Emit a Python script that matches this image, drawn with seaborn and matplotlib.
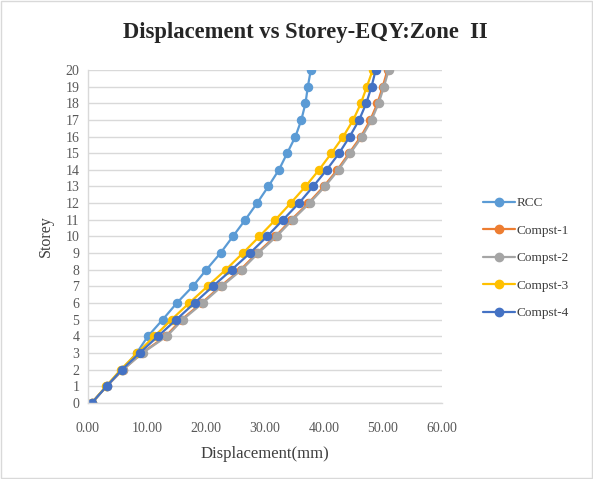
import matplotlib
matplotlib.use("Agg")
import matplotlib.pyplot as plt
from matplotlib.patches import Rectangle
import seaborn as sns
import pandas as pd

storeys = list(range(0, 21))
rcc = [0.7, 3.2, 5.8, 8.3, 10.2, 12.7, 15.1, 17.8, 20.1, 22.5, 24.6,
       26.7, 28.7, 30.6, 32.4, 33.8, 35.2, 36.2, 36.9, 37.3, 37.8]
compst_1 = [0.7, 3.2, 6.0, 9.2, 13.2, 15.9, 19.3, 22.5, 25.9, 28.7, 31.8,
            34.5, 37.4, 40.0, 42.3, 44.3, 46.3, 47.9, 49.1, 50.0, 50.8]
compst_2 = [0.7, 3.2, 6.0, 9.3, 13.4, 16.1, 19.5, 22.7, 26.1, 28.9, 32.0,
            34.7, 37.6, 40.2, 42.5, 44.5, 46.5, 48.1, 49.3, 50.2, 51.0]
compst_3 = [0.7, 3.1, 5.6, 8.4, 11.3, 14.2, 17.2, 20.3, 23.4, 26.3, 29.1,
            31.8, 34.4, 36.9, 39.2, 41.3, 43.3, 45.0, 46.3, 47.3, 48.3]
compst_4 = [0.7, 3.2, 5.8, 8.8, 11.9, 15.0, 18.1, 21.2, 24.4, 27.5, 30.4,
            33.1, 35.8, 38.2, 40.5, 42.6, 44.4, 46.0, 47.2, 48.1, 48.8]

series_names = ["RCC", "Compst-1", "Compst-2", "Compst-3", "Compst-4"]
series_values = [rcc, compst_1, compst_2, compst_3, compst_4]
colors = ["#5B9BD5", "#ED7D31", "#A5A5A5", "#FFC000", "#4472C4"]

x_ticks = [0, 10, 20, 30, 40, 50, 60]

rows = []
for name, vals in zip(series_names, series_values):
    for s, v in zip(storeys, vals):
        rows.append({"Displacement": v, "Storey": s, "Series": name})
df = pd.DataFrame(rows)

sns.set_theme(style="white")
plt.rcParams["font.family"] = ["Liberation Serif", "DejaVu Serif"]

fig = plt.figure(figsize=(5.93, 4.79), dpi=100)
fig.patches.append(Rectangle((0.002, 0.002), 0.996, 0.996, transform=fig.transFigure,
                             fill=False, edgecolor="#D9D9D9", linewidth=1.0))
ax = fig.add_axes([0.148, 0.159, 0.597, 0.695])

sns.lineplot(data=df, x="Displacement", y="Storey", hue="Series",
             hue_order=series_names, palette=colors, orient="y",
             estimator=None, sort=False, marker="o", markersize=6,
             markeredgewidth=0.8, linewidth=1.6, legend=False, ax=ax)
for line, c in zip(ax.get_lines(), colors):
    line.set_markeredgecolor(c)

ax.set_xlim(0, 60)
ax.set_ylim(0, 20)
ax.set_xticks(x_ticks)
ax.set_xticklabels([f"{t:.2f}" for t in x_ticks])
ax.set_yticks(storeys)
ax.set_yticklabels([str(s) for s in storeys])
ax.tick_params(axis="both", length=0, labelsize=10, labelcolor="#595959")
ax.tick_params(axis="x", pad=14)
ax.tick_params(axis="y", pad=6)
ax.yaxis.grid(True, color="#D9D9D9", linewidth=1.0)
ax.xaxis.grid(False)
for side in ["top", "right"]:
    ax.spines[side].set_visible(False)
for side in ["left", "bottom"]:
    ax.spines[side].set_color("#D9D9D9")
    ax.spines[side].set_linewidth(1.0)

ax.set_xlabel("Displacement(mm)", fontsize=12, color="#404040", labelpad=8)
ax.set_ylabel("Storey", fontsize=11.5, color="#404040", labelpad=8)

fig.text(0.515, 0.932, "Displacement vs Storey-EQY:Zone  II", ha="center", va="center",
         fontsize=16.3, fontweight="bold", color="#262626")

handles = [plt.Line2D([], [], color=c, marker="o", markersize=6, linewidth=1.6)
           for c in colors]
fig.legend(handles, series_names, loc="center left", bbox_to_anchor=(0.795, 0.461),
           frameon=False, fontsize=9.5, labelcolor="#404040", handlelength=2.4,
           handletextpad=0.1, labelspacing=1.15)

fig.savefig("out.png", dpi=100)
